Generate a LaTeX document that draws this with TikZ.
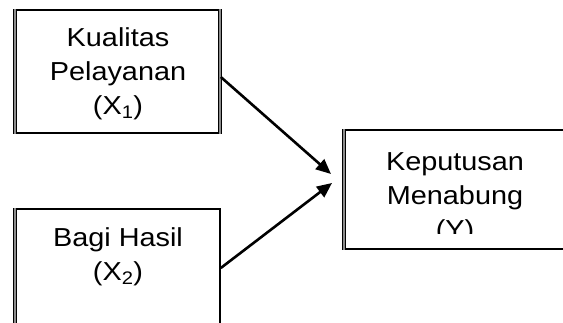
\documentclass[tikz,border=0pt]{standalone}
\usepackage{fontspec}
\setmainfont{Liberation Sans}[FakeStretch=1.11]
\usetikzlibrary{arrows.meta}
\begin{document}
\begin{tikzpicture}[x=1pt,y=-1pt,
  box/.style={draw=black, line width=1.6pt, rectangle, inner sep=0pt},
  lbl/.style={align=center, font=\fontsize{26}{34}\selectfont, inner sep=0pt, anchor=north},
  thickedge/.style={line width=4pt, black},
  thickcore/.style={line width=1.8pt, black!45},
  arr/.style={line width=2.6pt, -{Triangle[length=15pt,width=13pt]}}]
\clip (0,0) rectangle (563,323);
\fill[white] (0,0) rectangle (563,323);
% boxes
\node[box, minimum width=205pt, minimum height=123pt] (b1) at (117.5,71.5) {};
\node[box, minimum width=205pt, minimum height=140pt] (b2) at (117.5,279) {};
\node[box, minimum width=224pt, minimum height=119pt] (b3) at (455,189.5) {};
% thick edges
\draw[thickedge] ([xshift=1pt]b1.north west) -- ([xshift=1pt]b1.south west);
\draw[thickcore] ([xshift=1pt]b1.north west) -- ([xshift=1pt]b1.south west);
\draw[thickedge] ([xshift=-1pt]b1.north east) -- ([xshift=-1pt]b1.south east);
\draw[thickcore] ([xshift=-1pt]b1.north east) -- ([xshift=-1pt]b1.south east);
\draw[thickedge] ([xshift=1pt]b2.north west) -- ([xshift=1pt]b2.south west);
\draw[thickcore] ([xshift=1pt]b2.north west) -- ([xshift=1pt]b2.south west);
\draw[thickedge] ([xshift=1.5pt]b3.north west) -- ([xshift=1.5pt]b3.south west);
\draw[thickcore] ([xshift=1.5pt]b3.north west) -- ([xshift=1.5pt]b3.south west);
% texts
\node[lbl] (t1) at (118,27.5) {Kualitas\\Pelayanan\\(X\textsubscript{1})};
\node[lbl] (t2) at (118,227.5) {Bagi Hasil\\(X\textsubscript{2})};
\begin{scope}
\clip (343,130) rectangle (567,234);
\node[lbl] (t3) at (455,152) {Keputusan\\Menabung\\(Y)};
\end{scope}
% connectors
\coordinate (s1) at (b1.east |- 0,77);
\coordinate (e1) at (331,174);
\coordinate (s2) at (b2.north east |- 0,268);
\coordinate (e2) at (332,183);
\draw[arr] (s1) -- (e1);
\draw[arr] (s2) -- (e2);
\end{tikzpicture}
\end{document}
